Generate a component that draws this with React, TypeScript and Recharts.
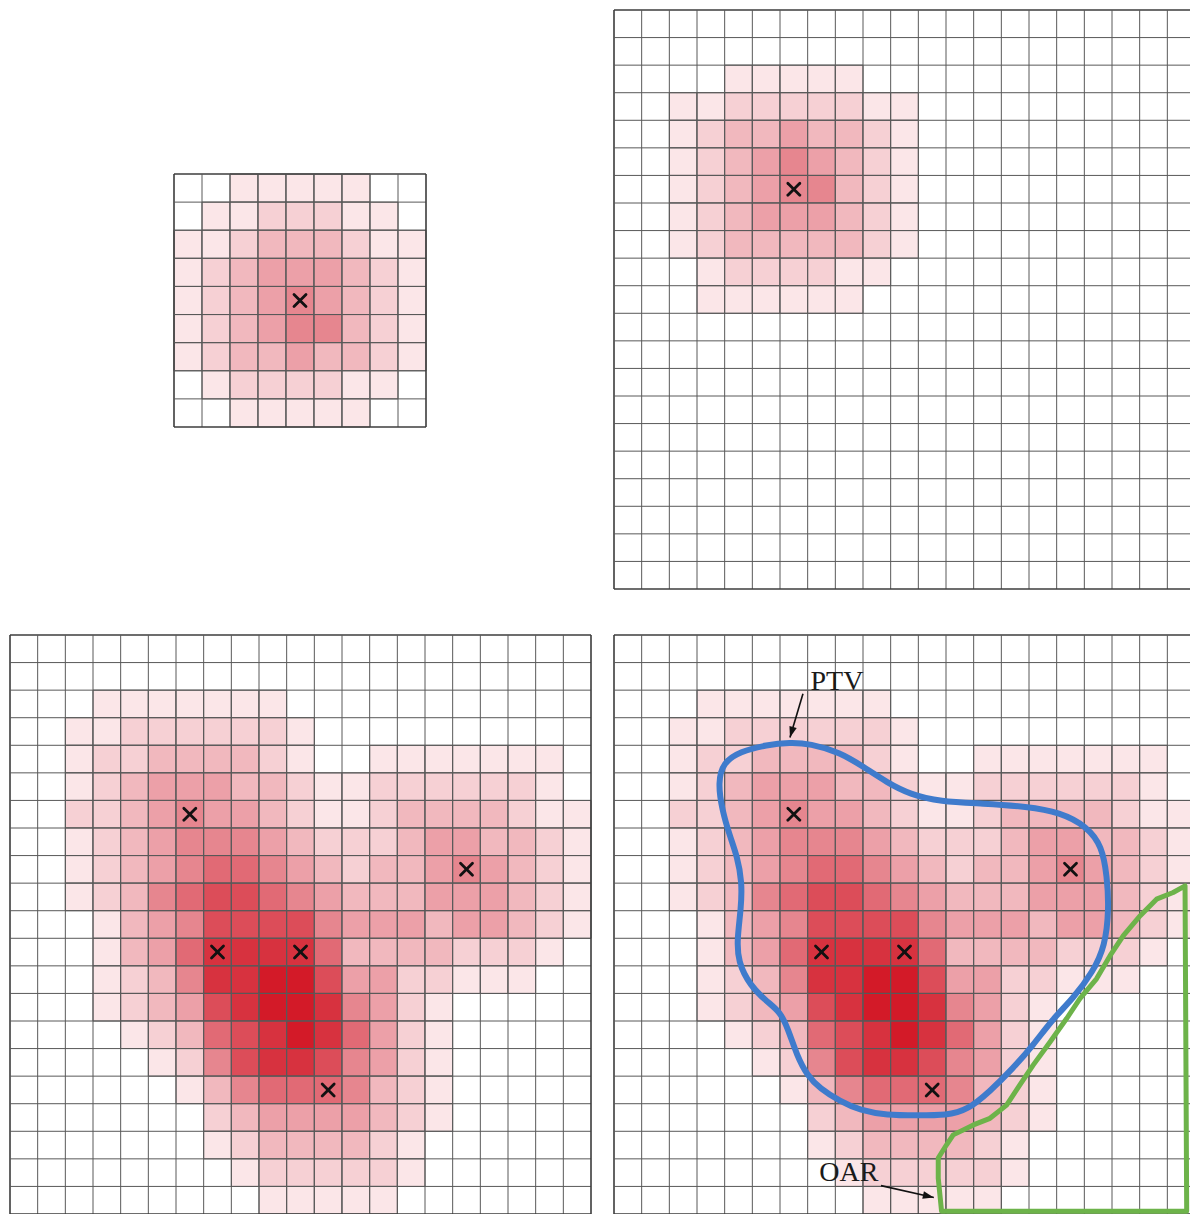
import React from 'react';
import { ComposedChart, XAxis, YAxis, ReferenceArea, ReferenceLine, Scatter } from 'recharts';

// Dose levels (0 = none, 9 = highest), one string per grid row, one digit per cell
const singleSpotSmallRows = [
  '001111100',
  '011222110',
  '112333211',
  '123444321',
  '123454321',
  '123455321',
  '123343321',
  '012222110',
  '001111100',
];

const singleSpotLargeRows = [
  '000000000000000000000',
  '000000000000000000000',
  '000011111000000000000',
  '001122222110000000000',
  '001233433210000000000',
  '001234543210000000000',
  '001234553210000000000',
  '001234443210000000000',
  '001233333210000000000',
  '000122221100000000000',
  '000111111000000000000',
];

const multiSpotRows = [
  '000000000000000000000',
  '000000000000000000000',
  '000111111100000000000',
  '001122222210000000000',
  '001223333210011111110',
  '001234443321122222210',
  '002234544321123333211',
  '001234555432223443321',
  '001234566543233454321',
  '001235677654333444321',
  '000134577775444344321',
  '000134688886333322210',
  '000123588997442211100',
  '000123478998542100000',
  '000012367898642100000',
  '000001257887542100000',
  '000000135666532100000',
  '000000023444432100000',
  '000000012333321000000',
  '000000001222221000000',
  '000000000111110000000',
];

// Spot (beam) positions in grid units
const singleSpotSmall = [{ x: 4.5, y: 4.5 }];
const singleSpotLarge = [{ x: 6.5, y: 6.5 }];
const multiSpots = [
  { x: 6.5, y: 6.5 },
  { x: 7.5, y: 11.5 },
  { x: 10.5, y: 11.5 },
  { x: 11.5, y: 16.5 },
  { x: 16.5, y: 8.5 },
];

// PTV contour (grid units)
const ptvContour = [
  { x: 6.36, y: 3.9 }, { x: 7.08, y: 3.94 }, { x: 8.17, y: 4.26 }, { x: 9.0, y: 4.77 },
  { x: 9.87, y: 5.35 }, { x: 10.7, y: 5.78 }, { x: 11.78, y: 6.04 }, { x: 13.34, y: 6.11 },
  { x: 14.93, y: 6.22 }, { x: 16.12, y: 6.43 }, { x: 17.09, y: 6.94 }, { x: 17.64, y: 7.66 },
  { x: 17.82, y: 8.75 }, { x: 17.89, y: 9.94 }, { x: 17.75, y: 11.28 }, { x: 17.31, y: 12.22 },
  { x: 16.59, y: 13.19 }, { x: 15.87, y: 13.91 }, { x: 15.14, y: 14.89 }, { x: 14.42, y: 15.72 },
  { x: 13.59, y: 16.55 }, { x: 12.76, y: 17.24 }, { x: 12.03, y: 17.42 }, { x: 10.95, y: 17.42 },
  { x: 9.87, y: 17.42 }, { x: 8.89, y: 17.24 }, { x: 8.17, y: 16.91 }, { x: 7.44, y: 16.44 },
  { x: 6.98, y: 15.97 }, { x: 6.61, y: 15.25 }, { x: 6.29, y: 14.28 }, { x: 6.0, y: 13.66 },
  { x: 5.53, y: 13.3 }, { x: 4.92, y: 12.72 }, { x: 4.48, y: 11.85 }, { x: 4.45, y: 11.02 },
  { x: 4.59, y: 9.94 }, { x: 4.63, y: 8.96 }, { x: 4.45, y: 8.02 }, { x: 4.19, y: 7.3 },
  { x: 3.9, y: 6.32 }, { x: 3.76, y: 5.35 }, { x: 3.94, y: 4.63 }, { x: 4.55, y: 4.23 },
  { x: 5.53, y: 3.98 },
];

// OAR contour (grid units)
const oarContour = [
  { x: 11.84, y: 20.9 }, { x: 11.72, y: 19.7 }, { x: 11.72, y: 18.97 }, { x: 12.02, y: 18.49 },
  { x: 12.26, y: 18.13 }, { x: 12.99, y: 17.77 }, { x: 13.59, y: 17.53 }, { x: 14.19, y: 17.05 },
  { x: 14.67, y: 16.32 }, { x: 15.15, y: 15.6 }, { x: 15.76, y: 14.76 }, { x: 16.36, y: 13.91 },
  { x: 16.84, y: 13.19 }, { x: 17.44, y: 12.47 }, { x: 17.93, y: 11.63 }, { x: 18.41, y: 10.9 },
  { x: 19.02, y: 10.18 }, { x: 19.61, y: 9.58 }, { x: 20.21, y: 9.34 }, { x: 20.64, y: 9.1 },
  { x: 20.7, y: 20.9 },
];

const ptvLabel = [{ x: 8.06, y: 1.99, text: 'PTV' }];
const oarLabel = [{ x: 8.49, y: 19.81, text: 'OAR' }];
const ptvArrow = [{ x: 6.83, y: 2.13 }, { x: 6.36, y: 3.72 }];
const oarArrow = [{ x: 9.65, y: 19.97 }, { x: 11.56, y: 20.4 }];

const PALETTE = [
  '#ffffff', '#fbe6e8', '#f6d0d4', '#f1b8be', '#eca0a8',
  '#e6868f', '#e16a75', '#dc4d59', '#d7323f', '#d31a28',
];
const GRID = '#595959';
const BORDER = '#3c3c3c';
const PAD = 3;

const parseRows = (rows: string[], n: number) => {
  const out: number[][] = [];
  for (let r = 0; r < n; r++) {
    const s = (rows[r] || '').padEnd(n, '0');
    out.push(s.split('').slice(0, n).map(Number));
  }
  return out;
};

const Empty = () => <g />;

const CrossShape = (props: any) => {
  const { cx, cy } = props;
  const a = 6;
  return (
    <g>
      <line x1={cx - a} y1={cy - a} x2={cx + a} y2={cy + a} stroke="#111" strokeWidth={2.8} strokeLinecap="round" />
      <line x1={cx - a} y1={cy + a} x2={cx + a} y2={cy - a} stroke="#111" strokeWidth={2.8} strokeLinecap="round" />
    </g>
  );
};

const ArrowHeadShape = (props: any) => {
  const { cx, cy, payload } = props;
  if (!payload || !payload.head) return <g />;
  const ang = Math.atan2(payload.dy, payload.dx);
  const L = 11;
  const W = 3.8;
  const bx = cx - L * Math.cos(ang);
  const by = cy - L * Math.sin(ang);
  const px = -Math.sin(ang) * W;
  const py = Math.cos(ang) * W;
  return <polygon points={`${cx},${cy} ${bx + px},${by + py} ${bx - px},${by - py}`} fill="#111" />;
};

const LabelShape = (props: any) => {
  const { cx, cy, payload } = props;
  return (
    <text x={cx} y={cy} textAnchor="middle" fontFamily="'Liberation Serif', 'DejaVu Serif', serif" fontSize={28} fill="#1a1a1a">
      {payload.text}
    </text>
  );
};

const withHead = (pts: { x: number; y: number }[]) => [
  { ...pts[0] },
  { ...pts[1], head: true, dx: pts[1].x - pts[0].x, dy: pts[1].y - pts[0].y },
];

type PanelProps = {
  n: number;
  rows: string[];
  spots: { x: number; y: number }[];
  left: number;
  top: number;
  w: number;
  h: number;
  overlay?: boolean;
};

function Panel({ n, rows, spots, left, top, w, h, overlay }: PanelProps) {
  const levels = parseRows(rows, n);
  const ticks = Array.from({ length: n + 1 }, (_, i) => i);
  const cells: React.ReactNode[] = [];
  levels.forEach((row, r) =>
    row.forEach((v, c) => {
      if (v > 0) {
        cells.push(
          <ReferenceArea
            key={`c${r}-${c}`}
            x1={c}
            x2={c + 1}
            y1={r}
            y2={r + 1}
            fill={PALETTE[v]}
            fillOpacity={1}
            stroke={GRID}
            strokeWidth={1}
            ifOverflow="visible"
          />
        );
      }
    })
  );
  const lines: React.ReactNode[] = [];
  ticks.forEach((t) => {
    const edge = t === 0 || t === n;
    lines.push(<ReferenceLine key={`vx${t}`} x={t} stroke={edge ? BORDER : GRID} strokeWidth={edge ? 1.6 : 1} ifOverflow="visible" />);
    lines.push(<ReferenceLine key={`hy${t}`} y={t} stroke={edge ? BORDER : GRID} strokeWidth={edge ? 1.6 : 1} ifOverflow="visible" />);
  });
  return (
    <div style={{ position: 'absolute', left: left - PAD, top: top - PAD }}>
      <ComposedChart width={w + 2 * PAD} height={h + 2 * PAD} margin={{ top: PAD, right: PAD, bottom: PAD, left: PAD }}>
        <XAxis type="number" dataKey="x" domain={[0, n]} ticks={ticks} allowDataOverflow hide />
        <YAxis type="number" dataKey="y" domain={[0, n]} ticks={ticks} allowDataOverflow reversed hide />
        {cells}
        {lines}
        {overlay && (
          <Scatter
            data={ptvContour}
            shape={Empty}
            line={{ stroke: '#3f7bcc', strokeWidth: 6, strokeLinejoin: 'round' }}
            lineType="joint"
            lineJointType="basisClosed"
            isAnimationActive={false}
          />
        )}
        {overlay && (
          <Scatter
            data={oarContour}
            shape={Empty}
            line={{ stroke: '#6db34a', strokeWidth: 5, strokeLinejoin: 'round' }}
            lineType="joint"
            lineJointType="linearClosed"
            isAnimationActive={false}
          />
        )}
        <Scatter data={spots} shape={CrossShape} isAnimationActive={false} />
        {overlay && (
          <Scatter data={withHead(ptvArrow)} shape={ArrowHeadShape} line={{ stroke: '#111', strokeWidth: 1.6 }} lineType="joint" isAnimationActive={false} />
        )}
        {overlay && (
          <Scatter data={withHead(oarArrow)} shape={ArrowHeadShape} line={{ stroke: '#111', strokeWidth: 1.6 }} lineType="joint" isAnimationActive={false} />
        )}
        {overlay && <Scatter data={ptvLabel} shape={LabelShape} isAnimationActive={false} />}
        {overlay && <Scatter data={oarLabel} shape={LabelShape} isAnimationActive={false} />}
      </ComposedChart>
    </div>
  );
}

export default function App() {
  return (
    <div style={{ position: 'absolute', left: 0, top: 0, width: 1190, height: 1214, overflow: 'hidden', background: '#fff' }}>
      <Panel n={9} rows={singleSpotSmallRows} spots={singleSpotSmall} left={174} top={174} w={252} h={253} />
      <Panel n={21} rows={singleSpotLargeRows} spots={singleSpotLarge} left={614} top={10} w={581} h={579} />
      <Panel n={21} rows={multiSpotRows} spots={multiSpots} left={10} top={635} w={581} h={579} />
      <Panel n={21} rows={multiSpotRows} spots={multiSpots} left={614} top={635} w={581} h={579} overlay />
    </div>
  );
}
